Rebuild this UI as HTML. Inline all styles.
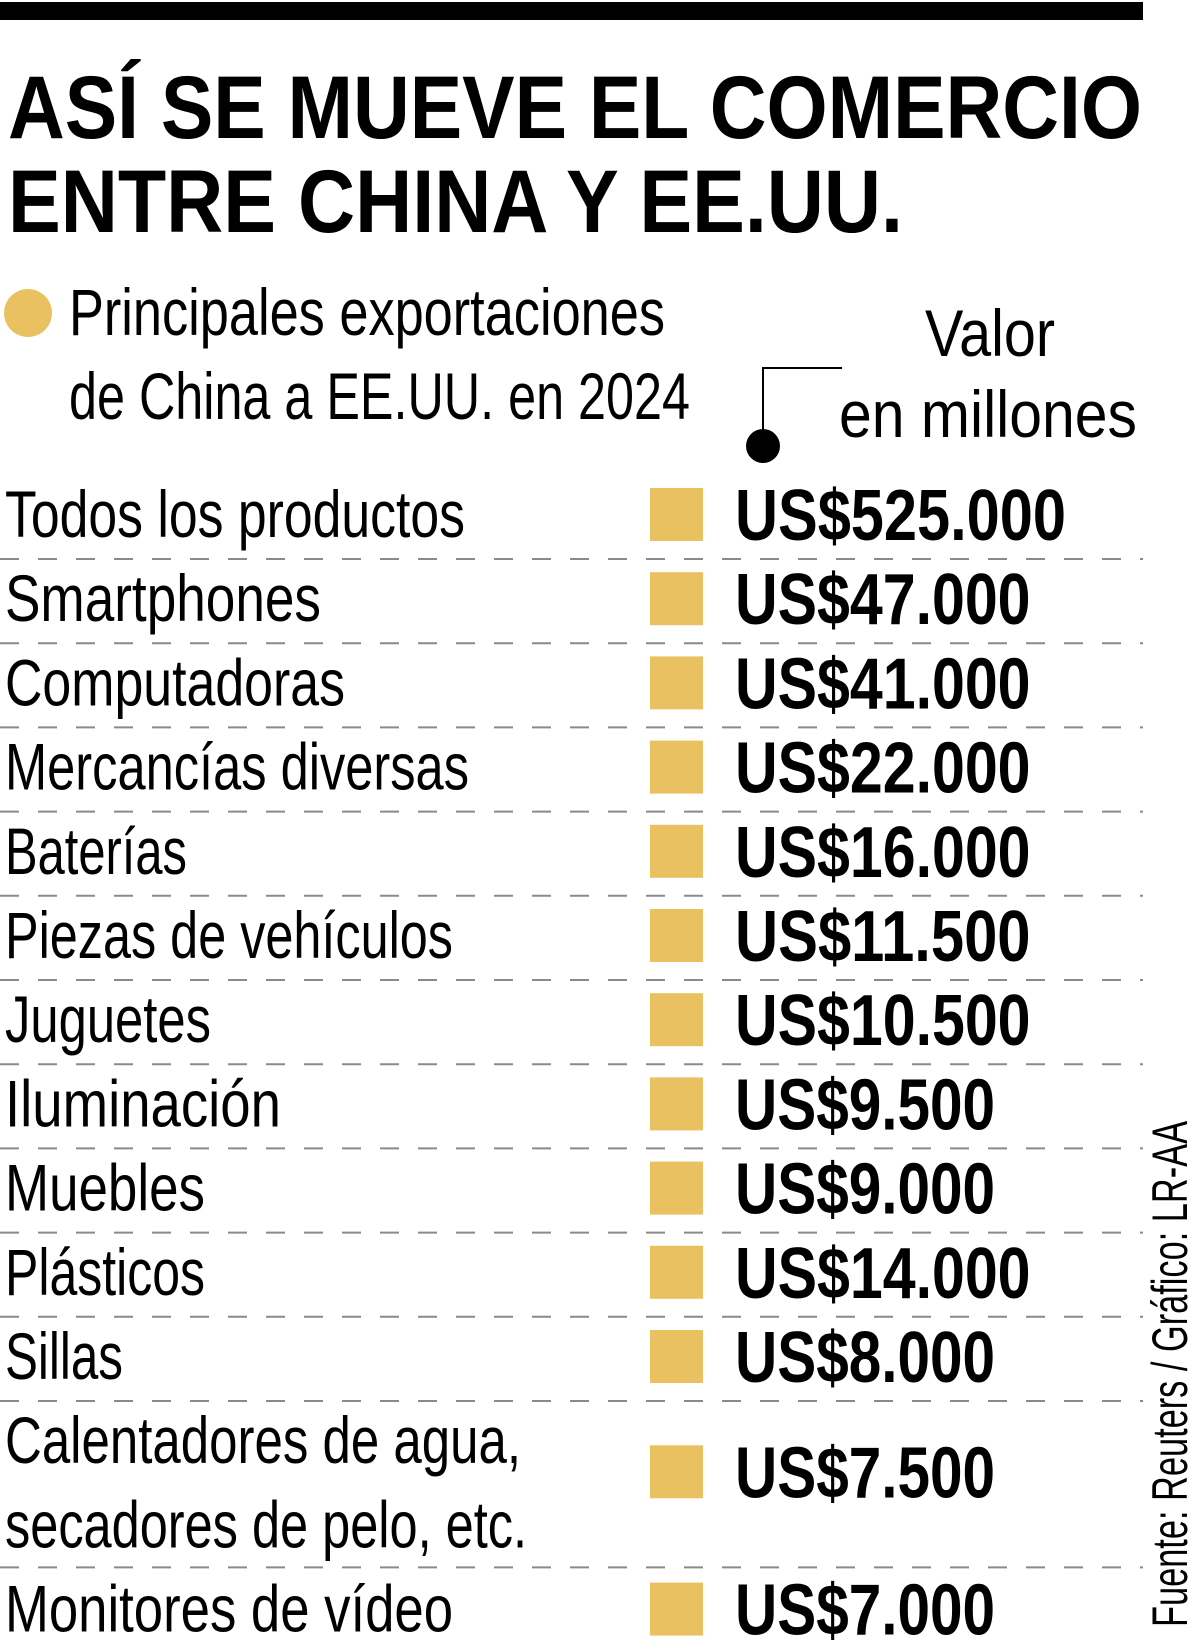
<!DOCTYPE html>
<html><head><meta charset="utf-8">
<style>
html,body{margin:0;padding:0;background:#fff;}
svg{display:block;}
.title{font-family:"Liberation Sans",sans-serif;font-weight:bold;font-size:89px;fill:#000;}
.narrow{font-family:"Liberation Sans Narrow","Liberation Sans",sans-serif;fill:#000;}
</style></head>
<body>
<svg id="chart" width="1200" height="1650" viewBox="0 0 1200 1650" xmlns="http://www.w3.org/2000/svg">
  <rect x="0" y="2" width="1143" height="18" fill="#000"/>
  <text class="title" x="8" y="138" textLength="1134" lengthAdjust="spacingAndGlyphs">ASÍ SE MUEVE EL COMERCIO</text>
  <text class="title" x="8" y="232" textLength="895" lengthAdjust="spacingAndGlyphs">ENTRE CHINA Y EE.UU.</text>
  <circle cx="28" cy="313" r="24" fill="#e9c161"/>
  <text class="narrow" x="69" y="335" font-size="66" textLength="596" lengthAdjust="spacingAndGlyphs">Principales exportaciones</text>
  <text class="narrow" x="69" y="419" font-size="66" textLength="621" lengthAdjust="spacingAndGlyphs">de China a EE.UU. en 2024</text>
  <text class="narrow" x="925" y="356" font-size="66" textLength="130" lengthAdjust="spacingAndGlyphs">Valor</text>
  <text class="narrow" x="839" y="437" font-size="66" textLength="298" lengthAdjust="spacingAndGlyphs">en millones</text>
  <polyline points="842,368 763,368 763,446" fill="none" stroke="#000" stroke-width="2"/>
  <circle cx="763" cy="446" r="17" fill="#000"/>
  <g id="rows"></g>
  <text class="narrow" transform="translate(1187,1627) rotate(-90)" x="0" y="0" font-size="50" textLength="506" lengthAdjust="spacingAndGlyphs">Fuente: Reuters / Gráfico: LR-AA</text>
</svg>
<script>
const labels = [["Todos los productos"],["Smartphones"],["Computadoras"],["Mercancías diversas"],["Baterías"],["Piezas de vehículos"],["Juguetes"],["Iluminación"],["Muebles"],["Plásticos"],["Sillas"],["Calentadores de agua,","secadores de pelo, etc."],["Monitores de vídeo"]];
const values = [525000,47000,41000,22000,16000,11500,10500,9500,9000,14000,8000,7500,7000];
const labelWidths = [[460],[316],[340],[464],[182],[448],[206],[276],[200],[200],[118],[516,522],[448]];

const NS = "http://www.w3.org/2000/svg";
const g = document.getElementById('rows');
const pitch = 84.2;
const firstBase = 537;
function fmt(v){return "US$" + v.toString().replace(/\B(?=(\d{3})+(?!\d))/g, ".");}
let slot = 0;
labels.forEach((lines, i) => {
  const base = firstBase + slot * pitch;
  lines.forEach((ln, j) => {
    const t = document.createElementNS(NS, 'text');
    
    
    t.setAttribute('class', 'narrow');
    t.setAttribute('x', 5);
    t.setAttribute('y', base + j * pitch);
    t.setAttribute('font-size', 66);
    t.setAttribute('textLength', labelWidths[i][j]);
    t.setAttribute('lengthAdjust', 'spacingAndGlyphs');
    t.textContent = ln;
    g.appendChild(t);
  });
  const vb = base + (lines.length - 1) * pitch / 2 + (lines.length > 1 ? -8 : 3);
  const sq = document.createElementNS(NS, 'rect');
  
  
  sq.setAttribute('x', 650); sq.setAttribute('y', vb - 52);
  sq.setAttribute('width', 53); sq.setAttribute('height', 53);
  sq.setAttribute('fill', '#e9c161');
  g.appendChild(sq);
  const s = fmt(values[i]);
  const vt = document.createElementNS(NS, 'text');
  
  
  vt.setAttribute('class', 'narrow');
  vt.setAttribute('font-weight', 'bold');
  vt.setAttribute('x', 735);
  vt.setAttribute('y', vb);
  vt.setAttribute('font-size', 72);
  vt.setAttribute('textLength', (s.length - 4) * 35.5 + 118);
  vt.setAttribute('lengthAdjust', 'spacingAndGlyphs');
  vt.textContent = s;
  g.appendChild(vt);
  slot += lines.length;
  if (i < labels.length - 1) {
    const ly = 559 + (slot - 1) * pitch + (lines.length > 1 ? -2 : 0);
    const dl = document.createElementNS(NS, 'line');
    
    
    dl.setAttribute('x1', 0); dl.setAttribute('x2', 1143);
    dl.setAttribute('y1', ly); dl.setAttribute('y2', ly);
    dl.setAttribute('stroke', '#8a8a8a'); dl.setAttribute('stroke-width', 2);
    dl.setAttribute('stroke-dasharray', '19 19');
    g.appendChild(dl);
  }
});
</script>
</body></html>
